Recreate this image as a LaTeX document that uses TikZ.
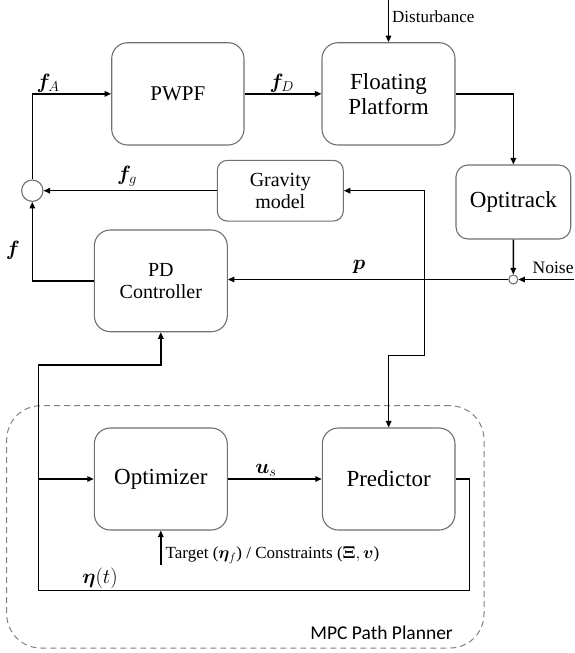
\documentclass[tikz,border=0pt]{standalone}
\usepackage{amsmath}
\usepackage{bm}
\usepackage{fontspec}
\setmainfont{Liberation Serif}
\newfontfamily\tnr{Liberation Serif}
\newfontfamily\calibrifont{Carlito}
\usetikzlibrary{arrows.meta,calc}
\definecolor{boxgray}{RGB}{112,112,112}
\definecolor{dashgray}{RGB}{128,128,128}
\newcommand{\fsz}[2]{\tnr\fontsize{#1}{#2}\selectfont}
\begin{document}
\begin{tikzpicture}[x=1pt,y=-1pt,
  blk/.style={draw=boxgray, line width=1.1pt, rounded corners=#1, align=center, inner sep=0pt, text=black},
  blk/.default=16pt,
  conn/.style={draw=black, line width=1.4pt, -{Triangle[length=6.5pt,width=5.5pt]}},
  bconn/.style={draw=black, line width=1.4pt, {Triangle[length=6.5pt,width=5.5pt]}-{Triangle[length=6.5pt,width=5.5pt]}},
  lbl/.style={inner sep=0pt, font=\fsz{20}{22}},
  junction/.style={circle, draw=boxgray, line width=1.1pt, fill=white, inner sep=0pt}
]
\useasboundingbox (0,0) rectangle (574,653);

% MPC dashed region
\node[draw=dashgray, line width=1pt, dashed, dash pattern=on 6pt off 4pt, rounded corners=34pt,
      minimum width=477.3pt, minimum height=242.3pt, inner sep=0pt] (mpc) at (245.35,526.85) {};
\node[anchor=east, inner sep=0pt, font=\calibrifont\fontsize{19.5}{22}\selectfont] (mpclbl) at (453,633) {MPC Path Planner};

% blocks
\node[blk, minimum width=132.3pt, minimum height=102.3pt, font=\fsz{21}{25}] (pwpf) at (177.85,93.85) {PWPF};
\node[blk, minimum width=133pt, minimum height=102.3pt, font=\fsz{23}{25}] (fp) at (388.5,93.85) {Floating\\Platform};
\node[blk=10pt, minimum width=126pt, minimum height=60.7pt, font=\fsz{20}{21.6}] (grav) at (280.3,190.7) {Gravity\\model};
\node[blk=12pt, minimum width=114.7pt, minimum height=74pt, font=\fsz{23}{25}] (opti) at (513.35,202) {Optitrack};
\node[blk, minimum width=133pt, minimum height=101.7pt, font=\fsz{20}{22.3}] (pd) at (160.8,280.85) {PD\\Controller};
\node[blk, minimum width=133pt, minimum height=102pt, font=\fsz{23}{25}] (opt) at (160.8,479) {Optimizer};
\node[blk, minimum width=132.7pt, minimum height=102pt, font=\fsz{23}{25}] (pred) at (388.65,479) {Predictor};

% junctions
\node[junction, minimum size=21.4pt] (sum) at (32.3,190.7) {};
\node[junction, minimum size=9pt] (noise) at (513.3,279.5) {};

% helper coordinates
\coordinate (dist) at (388.5,0);
\coordinate (noisein) at (574,279.5);
\coordinate (g1) at (424.5,190.7);
\coordinate (g2) at (424.5,355.3);
\coordinate (r1) at (469.3,479);
\coordinate (b1) at (469.3,590.7);
\coordinate (b2) at (38.3,590.7);
\coordinate (l1) at (38.3,365);
\coordinate (lo) at (38.3,479);
\coordinate (t0) at (160.8,565);

% connectors
\draw[conn] (dist) -- (fp.north);
\draw[conn] (sum.north) |- (pwpf.west);
\draw[conn] (pwpf.east) -- (fp.west);
\draw[conn] (fp.east) -| (opti.north);
\draw[conn] (opti.south) -- (noise.north);
\draw[conn] (noisein) -- (noise.east);
\draw[conn] (noise.west) -- (noise.west -| pd.east);
\draw[conn] (grav.west) -- (sum.east);
\draw[conn] (pd.west) -| (sum.south);
\draw[bconn] (grav.east) -- (g1) -- (g2) -| (pred.north);
\draw[conn] (opt.east) -- (pred.west);
\draw[conn] (pred.east) -- (r1) -- (b1) -- (b2) -- (l1) -| (pd.south);
\draw[conn] (lo) -- (opt.west);
\draw[conn] (t0) -- (opt.south);

% labels
\node[anchor=west, inner sep=0pt, font=\fsz{17}{19}] (distlbl) at (392,16.7) {Disturbance};
\node[anchor=west, inner sep=0pt, font=\fsz{17.5}{19}] (noiselbl) at (532.5,268) {Noise};
\node[anchor=west, inner sep=0pt, font=\fsz{17}{19}] (tgtlbl) at (165.5,555) {Target ($\bm{\eta}_f$) / Constraints ($\bm{\Xi}, \bm{v}$)};
\node[lbl] (fA) at (48,83) {$\bm{f}_A$};
\node[lbl] (fD) at (281.7,83) {$\bm{f}_D$};
\node[lbl] (fg) at (127,176) {$\bm{f}_g$};
\node[lbl] (fl) at (13,250) {$\bm{f}$};
\node[lbl] (pl) at (359,266.7) {$\bm{p}$};
\node[lbl] (us) at (266,470.7) {$\bm{u}_s$};
\node[lbl, font=\fsz{20}{22}] (eta) at (100,578) {$\bm{\eta}(t)$};
\end{tikzpicture}
\end{document}
